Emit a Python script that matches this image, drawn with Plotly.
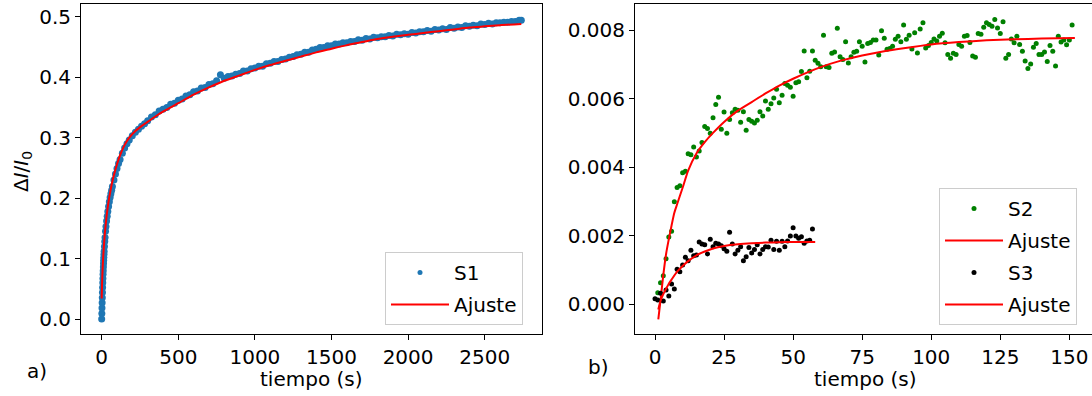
import plotly.graph_objects as go

# ---------------- data ----------------
s1_t = [0, 1, 2, 3, 4, 5, 6, 7, 8, 9,
        10, 11, 12, 13, 14, 15, 16, 18, 20, 22,
        25, 28, 32, 36, 40, 45, 50, 55, 60, 65,
        70, 80, 90, 100, 110, 120, 135, 150, 165, 180,
        200, 220, 240, 260, 280, 300,
        325, 350, 375, 400, 425, 450, 475, 500, 525, 550,
        575, 600, 625, 650, 675, 700, 725, 750, 775, 800,
        825, 850, 875, 900, 925, 950, 975, 1000, 1025, 1050,
        1075, 1100, 1125, 1150, 1175, 1200, 1225, 1250, 1275, 1300,
        1325, 1350, 1375, 1400, 1425, 1450, 1475, 1500, 1525, 1550,
        1575, 1600, 1625, 1650, 1675, 1700, 1725, 1750, 1775, 1800,
        1825, 1850, 1875, 1900, 1925, 1950, 1975, 2000, 2025, 2050,
        2075, 2100, 2125, 2150, 2175, 2200, 2225, 2250, 2275, 2300,
        2325, 2350, 2375, 2400, 2425, 2450, 2475, 2500, 2525, 2550,
        2575, 2600, 2625, 2650, 2675, 2700, 2725, 2739]
s1_v = [0.000, 0.009, 0.018, 0.027, 0.035, 0.044, 0.052, 0.060, 0.067, 0.074,
        0.080, 0.086, 0.092, 0.097, 0.102, 0.107, 0.112, 0.120, 0.128, 0.135,
        0.145, 0.153, 0.162, 0.170, 0.178, 0.186, 0.194, 0.201, 0.207, 0.213,
        0.219, 0.230, 0.240, 0.249, 0.257, 0.264, 0.274, 0.283, 0.290, 0.296,
        0.303, 0.309, 0.314, 0.319, 0.323, 0.328,
        0.334, 0.338, 0.344, 0.347, 0.350, 0.355, 0.357, 0.362, 0.364, 0.369,
        0.371, 0.376, 0.377, 0.382, 0.383, 0.388, 0.389, 0.394, 0.404, 0.398,
        0.401, 0.402, 0.405, 0.406, 0.410, 0.410, 0.414, 0.415, 0.418, 0.418,
        0.422, 0.423, 0.426, 0.426, 0.429, 0.430, 0.433, 0.434, 0.437, 0.438,
        0.441, 0.441, 0.445, 0.446, 0.449, 0.449, 0.452, 0.452, 0.455, 0.455,
        0.457, 0.457, 0.459, 0.459, 0.462, 0.461, 0.464, 0.463, 0.466, 0.465,
        0.467, 0.467, 0.469, 0.468, 0.471, 0.470, 0.472, 0.471, 0.474, 0.473,
        0.475, 0.475, 0.477, 0.476, 0.479, 0.478, 0.480, 0.479, 0.482, 0.481,
        0.483, 0.482, 0.485, 0.484, 0.486, 0.485, 0.488, 0.487, 0.489, 0.488,
        0.490, 0.490, 0.491, 0.491, 0.492, 0.492, 0.494, 0.494]

fit1_t = [0, 2, 4, 7, 10, 15, 20, 25, 32, 40, 50, 65, 80, 100, 120, 150, 180,
          220, 260, 300, 350, 400, 500, 600, 700, 800, 900, 1000, 1100, 1200,
          1300, 1400, 1500, 1600, 1700, 1800, 1900, 2000, 2100, 2200, 2300,
          2400, 2500, 2600, 2739]
fit1_v = [0.034, 0.055, 0.070, 0.088, 0.103, 0.123, 0.140, 0.153, 0.170, 0.186,
          0.202, 0.222, 0.238, 0.256, 0.271, 0.288, 0.300, 0.311, 0.319, 0.326,
          0.335, 0.343, 0.357, 0.371, 0.383, 0.394, 0.403, 0.412, 0.420, 0.427,
          0.434, 0.441, 0.447, 0.453, 0.458, 0.463, 0.467, 0.470, 0.473, 0.476,
          0.479, 0.482, 0.484, 0.486, 0.488]

s2_t = list(range(1, 152))
s2_v = [0.00034, 0.00063, 0.00083, 0.00133, 0.00196, 0.00213, 0.00299, 0.00341, 0.00346, 0.00384,
        0.00388, 0.00439, 0.00436, 0.00459, 0.00430, 0.00447, 0.00472, 0.00519, 0.00513, 0.00499,
        0.00544, 0.00583, 0.00604, 0.00511, 0.00561, 0.00499, 0.00539, 0.00559, 0.00569, 0.00566,
        0.00531, 0.00562, 0.00508, 0.00539, 0.00534, 0.00529, 0.00537, 0.00562, 0.00549, 0.00593,
        0.00569, 0.00585, 0.00602, 0.00627, 0.00588, 0.00610, 0.00644, 0.00639, 0.00633, 0.00607,
        0.00646, 0.00649, 0.00679, 0.00739, 0.00661, 0.00680, 0.00739, 0.00712, 0.00703, 0.00693,
        0.00785, 0.00693, 0.00691, 0.00732, 0.00736, 0.00805, 0.00722, 0.00714, 0.00766, 0.00704,
        0.00722, 0.00735, 0.00738, 0.00766, 0.00753, 0.00707, 0.00761, 0.00764, 0.00771, 0.00771,
        0.00727, 0.00798, 0.00776, 0.00744, 0.00746, 0.00753, 0.00773, 0.00782, 0.00766, 0.00815,
        0.00773, 0.00785, 0.00745, 0.00792, 0.00733, 0.00803, 0.00821, 0.00748, 0.00755, 0.00764,
        0.00774, 0.00768, 0.00782, 0.00791, 0.00763, 0.00729, 0.00718, 0.00732, 0.00729, 0.00758,
        0.00753, 0.00782, 0.00784, 0.00764, 0.00724, 0.00721, 0.00790, 0.00788, 0.00808, 0.00821,
        0.00816, 0.00811, 0.00831, 0.00806, 0.00790, 0.00824, 0.00718, 0.00729, 0.00774, 0.00763,
        0.00782, 0.00758, 0.00738, 0.00710, 0.00688, 0.00701, 0.00750, 0.00761, 0.00729, 0.00729,
        0.00736, 0.00708, 0.00755, 0.00738, 0.00695, 0.00782, 0.00765, 0.00771, 0.00757, 0.00771,
        0.00815]

fit2_t = [1.2, 2, 3, 4, 5, 6, 7, 8, 10, 12, 15, 18, 21, 25, 30, 35, 40, 45, 50,
          55, 60, 67, 75, 82, 90, 100, 110, 120, 130, 140, 152]
fit2_v = [-0.00044, 0.00012, 0.00085, 0.00146, 0.00190, 0.00230, 0.00267, 0.00292,
          0.00340, 0.00390, 0.00440, 0.00473, 0.00500, 0.00532, 0.00565, 0.00590,
          0.00615, 0.00638, 0.00658, 0.00676, 0.00692, 0.00710, 0.00726, 0.00737,
          0.00747, 0.00758, 0.00765, 0.00770, 0.00773, 0.00775, 0.00777]

s3_t = list(range(0, 58))
s3_v = [0.000163, 0.000125, 0.00032, 0.00010, 0.00042, 0.00024, 0.00059, 0.00045, 0.00102, 0.00095,
        0.00115, 0.00137, 0.00127, 0.00158, 0.00142, 0.00144, 0.00182, 0.00176, 0.00174, 0.00147,
        0.00190, 0.00168, 0.00178, 0.00176, 0.00171, 0.00162, 0.00155, 0.00210, 0.00176, 0.00147,
        0.00158, 0.00168, 0.00127, 0.00139, 0.00166, 0.00150, 0.00160, 0.00174, 0.00147, 0.00160,
        0.00168, 0.00167, 0.00187, 0.00160, 0.00184, 0.00158, 0.00184, 0.00168, 0.00185, 0.00199,
        0.00223, 0.00199, 0.00193, 0.00197, 0.00178, 0.00185, 0.00187, 0.00220]

fit3_t = [1.2, 2, 3, 4, 5, 6, 8, 10, 12, 15, 18, 21, 25, 30, 35, 40, 45, 50, 58]
fit3_v = [-0.00015, 0.00010, 0.00030, 0.00045, 0.00060, 0.00072, 0.00095, 0.00112,
          0.00126, 0.00143, 0.00154, 0.00163, 0.00170, 0.00175, 0.00178, 0.00180,
          0.00181, 0.00182, 0.00182]

BLUE = "#1f77b4"
GREEN = "#008000"
RED = "#ff0000"
FONT = "DejaVu Sans"
W, H = 1092, 396

fig = go.Figure()

# left panel
fig.add_trace(go.Scatter(x=s1_t, y=s1_v, mode="markers", marker=dict(color=BLUE, size=7),
                         showlegend=False, xaxis="x", yaxis="y", hoverinfo="skip"))
fig.add_trace(go.Scatter(x=fit1_t, y=fit1_v, mode="lines", line=dict(color=RED, width=2, shape="spline", smoothing=0.6),
                         showlegend=False, xaxis="x", yaxis="y"))
fig.add_trace(go.Scatter(x=[None], y=[None], mode="markers", marker=dict(color=BLUE, size=5),
                         name="S1", legend="legend", legendgroup="g1", xaxis="x", yaxis="y"))
fig.add_trace(go.Scatter(x=[None], y=[None], mode="lines", line=dict(color=RED, width=2),
                         name="Ajuste", legend="legend", legendgroup="g2", xaxis="x", yaxis="y"))

# right panel
fig.add_trace(go.Scatter(x=s2_t, y=s2_v, mode="markers", marker=dict(color=GREEN, size=5),
                         name="S2", legend="legend2", legendgroup="h1", xaxis="x2", yaxis="y2"))
fig.add_trace(go.Scatter(x=fit2_t, y=fit2_v, mode="lines", line=dict(color=RED, width=2, shape="spline", smoothing=0.6),
                         name="Ajuste", legend="legend2", legendgroup="h2", xaxis="x2", yaxis="y2"))
fig.add_trace(go.Scatter(x=s3_t, y=s3_v, mode="markers", marker=dict(color="black", size=5),
                         name="S3", legend="legend2", legendgroup="h3", xaxis="x2", yaxis="y2"))
fig.add_trace(go.Scatter(x=fit3_t, y=fit3_v, mode="lines", line=dict(color=RED, width=2, shape="spline", smoothing=0.6),
                         name="Ajuste", legend="legend2", legendgroup="h4", xaxis="x2", yaxis="y2"))

axis_common = dict(showgrid=False, zeroline=False, showline=True, linecolor="black", linewidth=1,
                   mirror=True, ticks="outside", ticklen=5, tickwidth=1, tickcolor="black",
                   automargin=False,
                   tickfont=dict(size=20, color="black", family=FONT))

ydom = [1 - 334 / H, 1 - 4 / H]
legend_common = dict(xanchor="left", yanchor="top", bordercolor="#cccccc", borderwidth=1,
                     bgcolor="rgba(255,255,255,0.8)", font=dict(size=20, family=FONT),
                     tracegroupgap=3, itemwidth=58)
fig.update_layout(
    width=W, height=H, autosize=False,
    margin=dict(l=0, r=0, t=0, b=0, pad=0),
    paper_bgcolor="white", plot_bgcolor="white",
    font=dict(family=FONT, size=20, color="black"),
    xaxis=dict(domain=[81 / W, 542 / W], range=[-135, 2874], tick0=0, dtick=500, anchor="y", **axis_common),
    yaxis=dict(domain=ydom, range=[-0.0248, 0.521], tick0=0, dtick=0.1, tickformat=".1f", anchor="x", **axis_common),
    xaxis2=dict(domain=[635 / W, 1.0], range=[-7.24, 158.2], tick0=0, dtick=25, anchor="y2", **axis_common),
    yaxis2=dict(domain=ydom, range=[-0.000866, 0.00876], tick0=0, dtick=0.002, tickformat=".3f", anchor="x2", **axis_common),
    legend=dict(x=385 / W, y=1 - 252 / H, **legend_common),
    legend2=dict(x=939 / W, y=1 - 188 / H, **legend_common),
    annotations=[
        dict(text="tiempo (s)", x=311.5 / W, y=1 - 379 / H, xref="paper", yref="paper",
             showarrow=False, xanchor="center", yanchor="middle", font=dict(size=20)),
        dict(text="tiempo (s)", x=865 / W, y=1 - 379 / H, xref="paper", yref="paper",
             showarrow=False, xanchor="center", yanchor="middle", font=dict(size=20)),
        dict(text="Δ<i>I</i>/<i>I</i><sub>0</sub>", x=22 / W, y=1 - 172 / H, xref="paper", yref="paper",
             showarrow=False, xanchor="center", yanchor="middle", textangle=-90, font=dict(size=20)),
        dict(text="a)", x=37 / W, y=1 - 371 / H, xref="paper", yref="paper",
             showarrow=False, xanchor="center", yanchor="middle", font=dict(size=20)),
        dict(text="b)", x=598 / W, y=1 - 367 / H, xref="paper", yref="paper",
             showarrow=False, xanchor="center", yanchor="middle", font=dict(size=20)),
    ],
)

fig.write_html("out.html", config={"displayModeBar": False},
               post_script="document.body.style.margin='0';document.body.style.overflow='hidden';")
